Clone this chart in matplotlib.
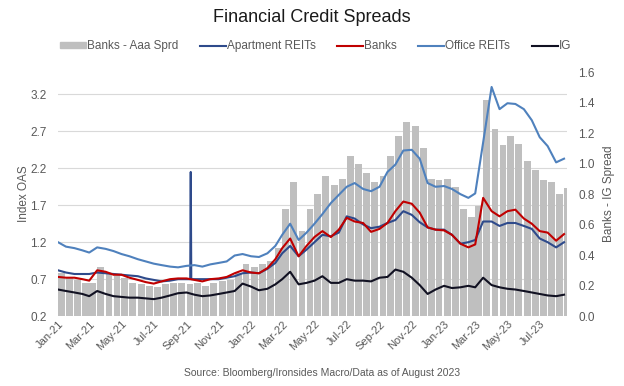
import pandas as pd
import matplotlib
matplotlib.use("Agg")
import matplotlib.pyplot as plt
import matplotlib.dates as mdates
from matplotlib.patches import Patch

plt.rcParams['font.family'] = ['Liberation Sans', 'DejaVu Sans']

# semi-monthly observations, Jan-21 .. Aug-23
dates = pd.to_datetime([f"{y}-{m:02d}-{d:02d}" for y in (2021, 2022, 2023)
                        for m in range(1, 13) for d in (1, 16)
                        if not (y == 2023 and m > 8)])

office = [1.20, 1.14, 1.12, 1.09, 1.06, 1.13, 1.11, 1.08, 1.04, 1.01, 0.97, 0.94,
          0.91, 0.89, 0.87, 0.86, 0.88, 0.89, 0.87, 0.90, 0.92, 0.94, 1.02, 1.04,
          1.01, 1.00, 1.05, 1.15, 1.30, 1.45, 1.23, 1.33, 1.45, 1.58, 1.73, 1.84,
          1.95, 2.00, 1.92, 1.89, 1.95, 2.15, 2.25, 2.44, 2.45, 2.33, 2.00, 1.95,
          1.96, 1.92, 1.85, 1.80, 1.86, 2.55, 3.30, 3.00, 3.08, 3.07, 3.00, 2.85,
          2.62, 2.50, 2.28, 2.33]

banks = [0.73, 0.72, 0.72, 0.70, 0.68, 0.82, 0.80, 0.76, 0.76, 0.72, 0.69, 0.66,
         0.64, 0.67, 0.70, 0.71, 0.71, 0.69, 0.67, 0.70, 0.71, 0.73, 0.78, 0.82,
         0.79, 0.78, 0.85, 0.97, 1.12, 1.25, 1.01, 1.15, 1.27, 1.35, 1.27, 1.37,
         1.53, 1.48, 1.46, 1.34, 1.38, 1.46, 1.62, 1.75, 1.72, 1.60, 1.40, 1.37,
         1.36, 1.30, 1.18, 1.13, 1.17, 1.80, 1.62, 1.55, 1.62, 1.64, 1.52, 1.45,
         1.35, 1.33, 1.22, 1.31]

apartment = [0.82, 0.79, 0.77, 0.77, 0.77, 0.79, 0.78, 0.77, 0.76, 0.75, 0.74, 0.71,
             0.69, 0.67, 0.68, 0.70, 0.70, 0.70, 0.70, 0.70, 0.70, 0.72, 0.74, 0.78,
             0.79, 0.78, 0.84, 0.92, 1.05, 1.15, 1.01, 1.10, 1.20, 1.30, 1.28, 1.33,
             1.55, 1.52, 1.44, 1.39, 1.41, 1.46, 1.50, 1.62, 1.57, 1.47, 1.40, 1.37,
             1.37, 1.30, 1.18, 1.20, 1.23, 1.48, 1.48, 1.42, 1.46, 1.46, 1.42, 1.38,
             1.25, 1.20, 1.13, 1.20]
# one-day print error in the apartment REIT index
spike_dates = pd.to_datetime(["2021-09-08", "2021-09-09", "2021-09-10"])
spike_values = [0.70, 2.15, 0.70]

ig = [0.56, 0.54, 0.52, 0.50, 0.47, 0.54, 0.50, 0.47, 0.46, 0.45, 0.45, 0.44,
      0.43, 0.45, 0.48, 0.51, 0.52, 0.49, 0.47, 0.48, 0.50, 0.52, 0.54, 0.64,
      0.60, 0.55, 0.57, 0.63, 0.70, 0.80, 0.63, 0.65, 0.68, 0.74, 0.65, 0.65,
      0.70, 0.68, 0.68, 0.67, 0.72, 0.73, 0.83, 0.80, 0.72, 0.62, 0.50, 0.56,
      0.61, 0.58, 0.59, 0.61, 0.59, 0.72, 0.62, 0.59, 0.57, 0.56, 0.54, 0.52,
      0.50, 0.48, 0.47, 0.49]

banks_aaa = [0.28, 0.25, 0.24, 0.22, 0.22, 0.32, 0.28, 0.26, 0.25, 0.22, 0.21, 0.20,
             0.19, 0.21, 0.22, 0.22, 0.21, 0.22, 0.20, 0.22, 0.23, 0.24, 0.28, 0.34,
             0.32, 0.34, 0.36, 0.45, 0.70, 0.88, 0.56, 0.70, 0.80, 0.92, 0.86, 0.90,
             1.05, 1.00, 0.94, 0.88, 0.92, 1.05, 1.18, 1.27, 1.25, 1.10, 0.90, 0.89,
             0.90, 0.85, 0.70, 0.65, 0.72, 1.42, 1.23, 1.12, 1.18, 1.13, 1.02, 0.96,
             0.89, 0.88, 0.80, 0.84]

apt = pd.Series(apartment, index=dates)
apt = pd.concat([apt, pd.Series(spike_values, index=spike_dates)]).sort_index()

txt = '#595959'
fig = plt.figure(figsize=(6.24, 3.86), dpi=100)
ax = fig.add_axes([0.093, 0.181, 0.816, 0.632])
ax2 = ax.twinx()   # bars, right scale
ax3 = ax.twinx()   # lines, left scale

ax2.bar(dates, banks_aaa, width=13, color='#BFBFBF', align='edge')
ax3.plot(apt.index, apt.values, color='#2E4A8B', lw=1.5)
ax3.plot(dates, banks, color='#C00000', lw=1.5)
ax3.plot(dates, office, color='#4F81BD', lw=1.5)
ax3.plot(dates, ig, color='#111122', lw=1.5)

xmin, xmax = pd.Timestamp("2021-01-01"), pd.Timestamp("2023-08-22")
for a in (ax, ax2, ax3):
    a.set_xlim(xmin, xmax)
    for s in a.spines.values():
        s.set_visible(False)
ax.set_ylim(0.2, 3.5)
ax3.set_ylim(0.2, 3.5)
ax2.set_ylim(0, 1.6)

ax.set_yticks([0.2, 0.7, 1.2, 1.7, 2.2, 2.7, 3.2])
ax.yaxis.grid(True, color='#D9D9D9', lw=0.8)
ax.set_axisbelow(True)
ax3.set_yticks([])
ax2.set_yticks([0.0, 0.2, 0.4, 0.6, 0.8, 1.0, 1.2, 1.4, 1.6])
ax2.yaxis.set_major_formatter(plt.FormatStrFormatter('%.1f'))
ax.tick_params(axis='y', length=0, labelsize=8.5, labelcolor=txt, pad=8)
ax2.tick_params(axis='y', length=0, labelsize=8.5, labelcolor=txt, pad=8)

ax.xaxis.set_major_locator(mdates.MonthLocator(bymonth=[1, 3, 5, 7, 9, 11]))
ax.xaxis.set_major_formatter(mdates.DateFormatter('%b-%y'))
ax.tick_params(axis='x', length=0, labelsize=8, labelcolor=txt, pad=2)
ax2.tick_params(axis='x', labelbottom=False, length=0)
ax3.tick_params(axis='x', labelbottom=False, length=0)
for lab in ax.get_xticklabels():
    lab.set_rotation(45)
    lab.set_ha('right')
    lab.set_rotation_mode('anchor')

ax.set_ylabel('Index OAS', color=txt, fontsize=8.5, labelpad=0)
ax2.set_ylabel('Banks - IG Spread', color=txt, fontsize=8.5, labelpad=6)

fig.text(0.5, 0.955, 'Financial Credit Spreads', ha='center', va='center', fontsize=13, color='#1a1a1a')
fig.text(0.516, 0.033, 'Source: Bloomberg/Ironsides Macro/Data as of August 2023',
         ha='center', va='center', fontsize=7.5, color=txt)

handles = [Patch(color='#BFBFBF'),
           plt.Line2D([], [], color='#2E4A8B', lw=1.5),
           plt.Line2D([], [], color='#C00000', lw=1.5),
           plt.Line2D([], [], color='#4F81BD', lw=1.5),
           plt.Line2D([], [], color='#111122', lw=1.5)]
labels = ['Banks - Aaa Sprd', 'Apartment REITs', 'Banks', 'Office REITs', 'IG']
leg = fig.legend(handles, labels, loc='center', bbox_to_anchor=(0.506, 0.88), ncol=5,
                 frameon=False, fontsize=8.5, handlelength=2.2, handleheight=0.35,
                 handletextpad=0.1, columnspacing=1.8)
for t in leg.get_texts():
    t.set_color(txt)

fig.savefig('out.png', dpi=100)
